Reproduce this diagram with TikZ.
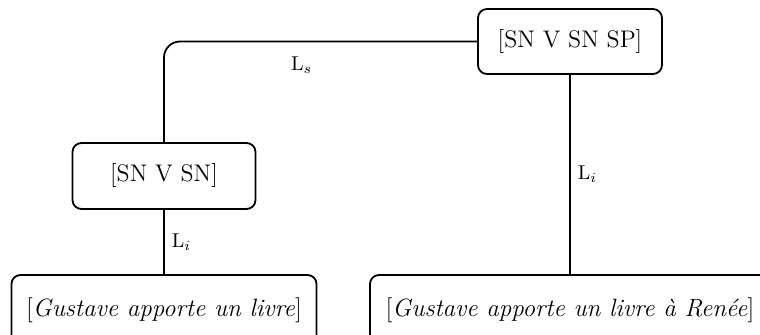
\documentclass[tikz,border=0pt]{standalone}
\begin{document}
\begin{tikzpicture}[x=0.5pt,y=-0.5pt,
  box/.style={draw,line width=0.9pt,rounded corners=4.5pt,inner sep=0pt,font=\fontsize{12}{14}\selectfont},
  itbox/.style={box,font=\fontsize{12.5}{15}\selectfont},
  conn/.style={draw,line width=0.9pt},
  lab/.style={font=\fontsize{10}{12}\selectfont,inner sep=1pt}]
\useasboundingbox (0,0) rectangle (760,335);
\clip (0,0) rectangle (760,335);
\node[box,minimum width=92pt,minimum height=32.5pt] (top) at (570,41.5) {[SN V SN SP]};
\node[box,minimum width=91.5pt,minimum height=33pt] (mid) at (164,176) {[SN V SN]};
\node[itbox,minimum width=152.5pt,minimum height=35pt] (bl) at (164,310) {[\textit{Gustave apporte un livre}]};
\node[itbox,minimum width=200pt,minimum height=35pt] (br) at (570,310) {[\textit{Gustave apporte un livre à Renée}]};
\draw[conn,rounded corners=8pt] (top.west) -| (mid.north)
  node[lab,pos=0.28,anchor=north,yshift=-6pt] {L$_s$};
\draw[conn] (mid.south) -- (bl.north) node[lab,midway,anchor=west,xshift=2.5pt] {L$_i$};
\draw[conn] (top.south) -- (br.north) node[lab,midway,anchor=west,xshift=2.5pt] {L$_i$};
\end{tikzpicture}
\end{document}
